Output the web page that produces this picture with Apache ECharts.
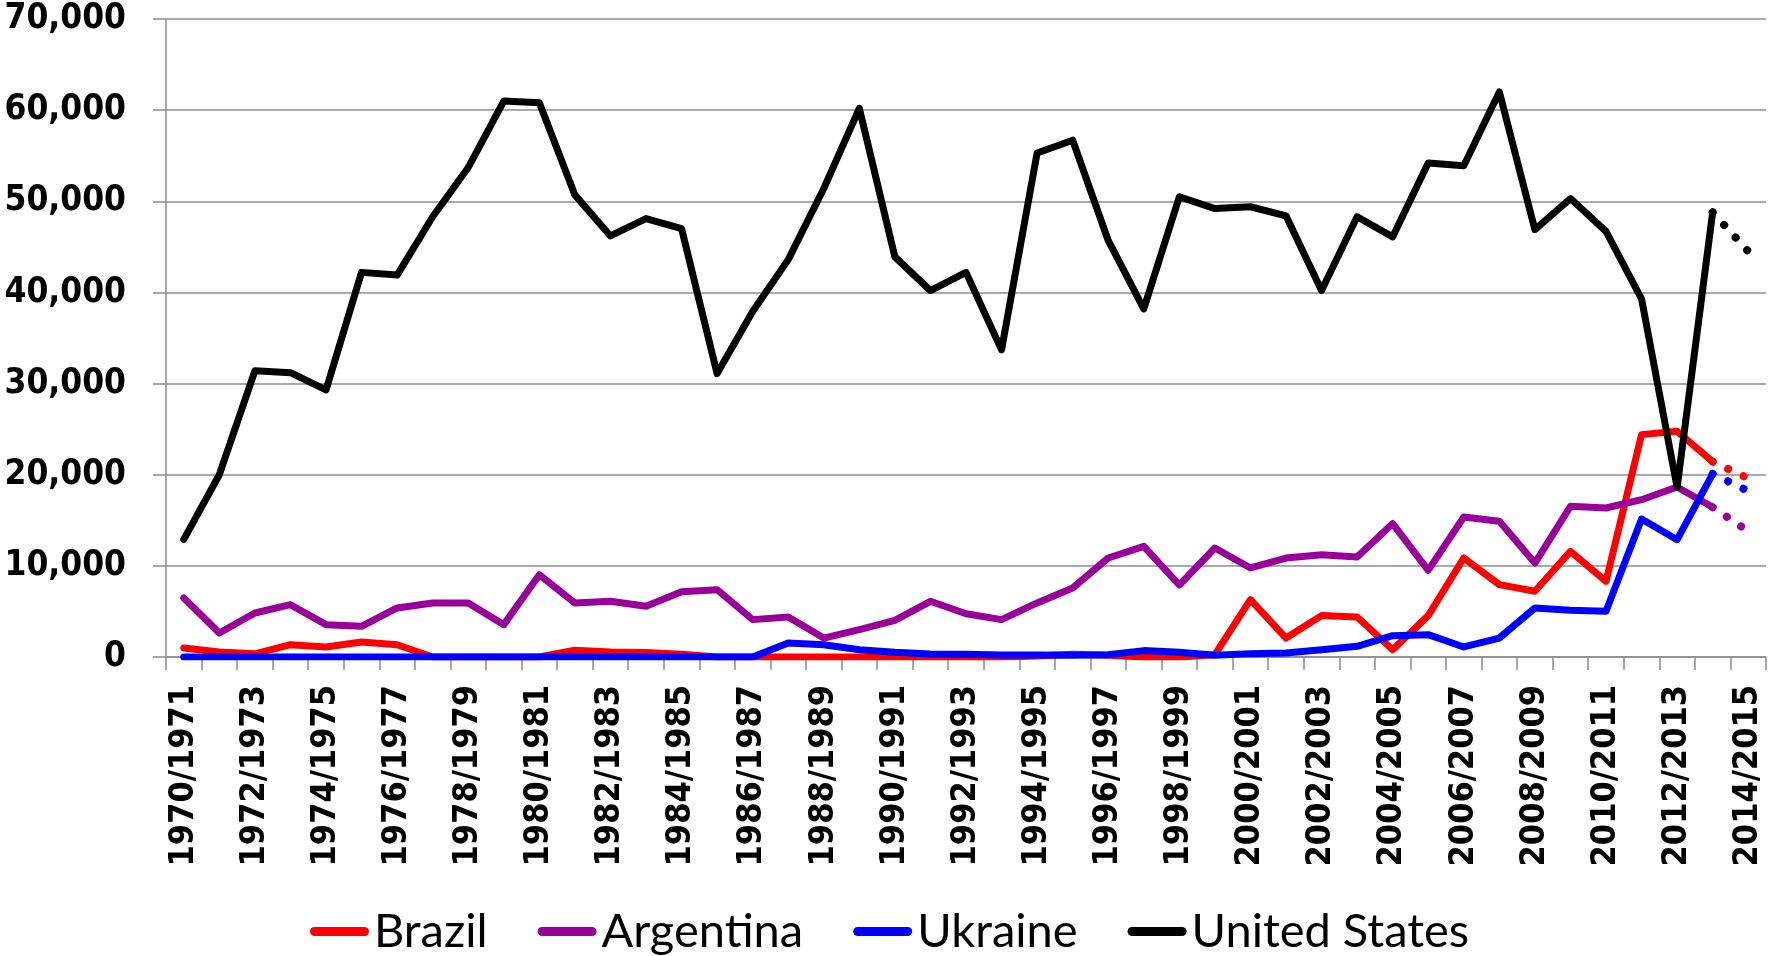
<!DOCTYPE html>
<html>
<head>
<meta charset="utf-8">
<title>Exports</title>
<script src="https://cdn.jsdelivr.net/npm/echarts@6/dist/echarts.min.js"></script>
<style>
  html, body { margin: 0; padding: 0; background: #fff; }
  #chart { width: 1769px; height: 956px; }
</style>
</head>
<body>
<div id="chart"></div>
<script>
// marketing years 1970/1971 .. 2014/2015
const years = [];
for (let y = 1970; y <= 2014; y++) {
  years.push(y + "/" + (y + 1));
}

const yTicks = [0, 10000, 20000, 30000, 40000, 50000, 60000, 70000];

const brazil = [
  990, 550, 350, 1350, 1100, 1650, 1350, 0, 0, 0,
  0, 750, 550, 500, 300, 0, 0, 0, 0, 0,
  0, 0, 0, 0, 100, 300, 200, 0, 0, 250,
  6290, 2080, 4540, 4390, 800, 4540, 10860, 7940, 7210, 11590,
  8300, 24400, 24760, 21430, 19600,
];
const argentina = [
  6470, 2630, 4830, 5740, 3550, 3370, 5380, 5930, 5930, 3550,
  9030, 5930, 6110, 5560, 7150, 7390, 4100, 4390, 2080, 3000,
  4020, 6110, 4750, 4100, 5930, 7570, 10860, 12140, 7900, 11960,
  9770, 10860, 11230, 10970, 14630, 9510, 15360, 14890, 10310, 16530,
  16350, 17260, 18650, 16430, 13800,
];
const ukraine = [
  0, 0, 0, 0, 0, 0, 0, 0, 0, 0,
  0, 0, 0, 0, 0, 0, 0, 1540, 1350, 800,
  510, 330, 290, 220, 220, 180, 260, 700, 530, 180,
  370, 440, 800, 1170, 2340, 2450, 1100, 2080, 5380, 5120,
  5010, 15140, 12870, 20100, 18200,
];
const unitedStates = [
  12900, 20000, 31400, 31200, 29300, 42200, 41900, 48300, 53700, 61000,
  60800, 50700, 46200, 48100, 47000, 31100, 37900, 43600, 51400, 60200,
  43900, 40200, 42200, 33700, 55300, 56700, 45700, 38200, 50500, 49200,
  49400, 48400, 40200, 48300, 46100, 54200, 53900, 62000, 46900, 50300,
  46700, 39300, 18600, 48800, 44500,
];

const countries = [
  { name: "Brazil", color: "#ff0000", data: brazil },
  { name: "Argentina", color: "#990099", data: argentina },
  { name: "Ukraine", color: "#0000ff", data: ukraine },
  { name: "United States", color: "#000000", data: unitedStates },
];

const last = years.length - 1;
const axisFont = '"DejaVu Sans Condensed", "DejaVu Sans", sans-serif';
const pill = "path://M4.5,0H54.5A4.5,4.5,0,0,1,54.5,9H4.5A4.5,4.5,0,0,1,4.5,0Z";

const series = [];
countries.forEach((c) => {
  // solid line up to 2013/2014
  series.push({
    name: c.name,
    type: "line",
    data: c.data.map((v, i) => (i < last ? v : null)),
    showSymbol: false,
    symbol: "none",
    lineStyle: { color: c.color, width: 7, cap: "round", join: "round" },
    itemStyle: { color: c.color },
    animation: false,
  });
  // projected last year, dotted
  series.push({
    name: c.name,
    type: "line",
    data: c.data.map((v, i) => (i >= last - 1 ? v : null)),
    showSymbol: false,
    symbol: "none",
    lineStyle: { color: c.color, width: 8, type: [0.1, 17], cap: "round" },
    itemStyle: { color: c.color },
    animation: false,
  });
});

const chart = echarts.init(document.getElementById("chart"));
chart.setOption({
  animation: false,
  grid: {
    left: 166,
    right: 3,
    top: 19,
    bottom: 299,
    containLabel: false,
  },
  legend: {
    data: countries.map((c) => c.name),
    left: 310,
    top: 908,
    padding: 0,
    itemWidth: 59,
    itemHeight: 10,
    itemGap: 50,
    icon: pill,
    textStyle: {
      fontFamily: "Lato, sans-serif",
      fontSize: 47,
      color: "#000",
    },
  },
  xAxis: {
    type: "category",
    data: years,
    boundaryGap: true,
    axisLine: { lineStyle: { color: "#8c8c8c", width: 1.5 } },
    axisTick: {
      show: true,
      interval: 0,
      length: 13,
      lineStyle: { color: "#8c8c8c", width: 1.5 },
    },
    axisLabel: {
      interval: 1,
      rotate: 90,
      margin: 28,
      color: "#000",
      fontFamily: axisFont,
      fontWeight: "bold",
      fontSize: 34,
    },
  },
  yAxis: {
    type: "value",
    min: yTicks[0],
    max: yTicks[yTicks.length - 1],
    interval: yTicks[1] - yTicks[0],
    axisLine: { show: true, lineStyle: { color: "#8c8c8c", width: 1.5 } },
    axisTick: { show: true, length: 13, lineStyle: { color: "#8c8c8c", width: 1.5 } },
    splitLine: { lineStyle: { color: "#8c8c8c", width: 1.5 } },
    axisLabel: {
      margin: 40,
      color: "#000",
      fontFamily: axisFont,
      fontWeight: "bold",
      fontSize: 35,
      formatter: (v) => v.toLocaleString("en-US"),
    },
  },
  series: series,
});
</script>
</body>
</html>
